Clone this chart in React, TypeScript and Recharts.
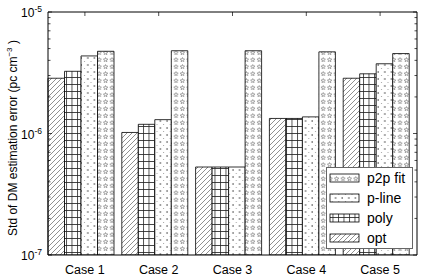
import React from "react";
import { BarChart, Bar, XAxis, YAxis } from "recharts";

// values
const categories = ["Case 1", "Case 2", "Case 3", "Case 4", "Case 5"];
const optValues = [2.85e-6, 1.02e-6, 5.3e-7, 1.33e-6, 2.85e-6];
const polyValues = [3.25e-6, 1.19e-6, 5.3e-7, 1.33e-6, 3.1e-6];
const plineValues = [4.35e-6, 1.3e-6, 5.3e-7, 1.37e-6, 3.75e-6];
const p2pValues = [4.75e-6, 4.8e-6, 4.8e-6, 4.7e-6, 4.55e-6];

const majorTicks = [1e-7, 1e-6, 1e-5];
const yTicks = [
  1e-7, 2e-7, 3e-7, 4e-7, 5e-7, 6e-7, 7e-7, 8e-7, 9e-7,
  1e-6, 2e-6, 3e-6, 4e-6, 5e-6, 6e-6, 7e-6, 8e-6, 9e-6, 1e-5,
];
const majorLabels = ["-7", "-6", "-5"];

const series = [
  { key: "opt", name: "opt", pattern: "hatch" },
  { key: "poly", name: "poly", pattern: "grid" },
  { key: "pline", name: "p-line", pattern: "dots" },
  { key: "p2p", name: "p2p fit", pattern: "stars" },
];

const data = categories.map((name, i) => ({
  name,
  opt: optValues[i],
  poly: polyValues[i],
  pline: plineValues[i],
  p2p: p2pValues[i],
}));

const PLOT_LEFT = 48;
const PLOT_RIGHT = 417;
const PLOT_TOP = 12;
const FONT = "Arial, 'Liberation Sans', Helvetica, sans-serif";

const starPath = (cx: number, cy: number, ro: number, ri: number) => {
  const pts: string[] = [];
  for (let k = 0; k < 10; k++) {
    const r = k % 2 === 0 ? ro : ri;
    const a = (-90 + k * 36) * (Math.PI / 180);
    pts.push(`${(cx + r * Math.cos(a)).toFixed(2)},${(cy + r * Math.sin(a)).toFixed(2)}`);
  }
  return "M" + pts.join("L") + "Z";
};

const Patterns = ({ prefix }: { prefix: string }) => (
  <defs>
    <pattern id={`${prefix}hatch`} width={5} height={5} patternUnits="userSpaceOnUse">
      <rect width={5} height={5} fill="#fff" />
      <path d="M0,5 L5,0 M-1,1 L1,-1 M4,6 L6,4" stroke="#444" strokeWidth={0.6} />
    </pattern>
    <pattern id={`${prefix}grid`} width={5.5} height={7} patternUnits="userSpaceOnUse">
      <rect width={5.5} height={7} fill="#fff" />
      <path d="M0.5,0 V7 M0,0.5 H5.5" stroke="#222" strokeWidth={0.8} />
    </pattern>
    <pattern id={`${prefix}dots`} width={6.6} height={7} patternUnits="userSpaceOnUse">
      <rect width={6.6} height={7} fill="#fff" />
      <circle cx={2} cy={2} r={0.7} fill="#222" />
      <circle cx={5.3} cy={5.5} r={0.5} fill="#888" />
    </pattern>
    <pattern id={`${prefix}stars`} width={6.4} height={7} patternUnits="userSpaceOnUse">
      <rect width={6.4} height={7} fill="#fff" />
      <path d={starPath(3.2, 3.8, 2.3, 1.0)} fill="none" stroke="#444" strokeWidth={0.45} />
    </pattern>
  </defs>
);

const LeftTick = (props: any) => {
  const { y, payload } = props;
  const idx = majorTicks.indexOf(payload.value);
  const major = idx >= 0;
  return (
    <g>
      <line x1={PLOT_LEFT} x2={PLOT_LEFT + (major ? 4 : 2.5)} y1={y} y2={y} stroke="#000" strokeWidth={0.7} />
      {major && (
        <text x={PLOT_LEFT - 6} y={y + 5} textAnchor="end" fontSize={12} fontFamily={FONT} fill="#000">
          10
          <tspan dy={-5} fontSize={8.5}>{majorLabels[idx]}</tspan>
        </text>
      )}
    </g>
  );
};

const RightTick = (props: any) => {
  const { y, payload } = props;
  const major = majorTicks.indexOf(payload.value) >= 0;
  return (
    <line x1={PLOT_RIGHT} x2={PLOT_RIGHT - (major ? 4 : 2.5)} y1={y} y2={y} stroke="#000" strokeWidth={0.7} />
  );
};

const TopTick = (props: any) => {
  const { x } = props;
  return <line x1={x} x2={x} y1={PLOT_TOP} y2={PLOT_TOP + 4} stroke="#000" strokeWidth={0.7} />;
};

// bar axis is shifted 4px left, labels sit at the category centres
const CaseTick = (props: any) => {
  const { x, y, payload } = props;
  return (
    <text x={x + 4} y={y + 11} textAnchor="middle" fontSize={12.5} fontFamily={FONT} fill="#000">
      {payload.value}
    </text>
  );
};

const YLabel = () => (
  <text
    transform="translate(17,138) rotate(-90)"
    textAnchor="middle"
    fontSize={12}
    fontFamily={FONT}
    fill="#000"
  >
    Std of DM estimation error (pc cm
    <tspan dy={-5} fontSize={8}>−3</tspan>
    <tspan dy={5}> )</tspan>
  </text>
);

const LegendBox = () => {
  const items = [...series].reverse();
  return (
    <div
      style={{
        position: "absolute",
        left: 326,
        top: 167,
        width: 87,
        height: 82,
        background: "#fff",
        border: "1px solid #666",
        boxSizing: "border-box",
      }}
    >
      <svg width={85} height={80}>
        <Patterns prefix="lg-" />
        {items.map((s, i) => (
          <g key={s.key}>
            <rect
              x={3}
              y={6 + i * 20}
              width={29}
              height={8}
              fill={`url(#lg-${s.pattern})`}
              stroke="#000"
              strokeWidth={0.8}
            />
            <text x={40} y={15 + i * 20} fontSize={14} fontFamily={FONT} fill="#000">
              {s.name}
            </text>
          </g>
        ))}
      </svg>
    </div>
  );
};

export default function App() {
  return (
    <div style={{ position: "relative", width: 431, height: 277, background: "#fff" }}>
      <style>{"body{margin:0}"}</style>
      <BarChart
        width={431}
        height={277}
        data={data}
        margin={{ top: 2, right: 0, bottom: 0, left: 0 }}
        barGap={0}
        barSize={16.5}
      >
        <Patterns prefix="" />
        <XAxis
          xAxisId="top"
          orientation="top"
          dataKey="name"
          height={10}
          tickLine={false}
          axisLine={{ stroke: "#000", strokeWidth: 1 }}
          tick={<TopTick />}
          interval={0}
        />
        <XAxis
          xAxisId="bars"
          dataKey="name"
          height={22}
          padding={{ left: -4, right: 4 }}
          tickLine={false}
          axisLine={{ stroke: "#000", strokeWidth: 1 }}
          tick={<CaseTick />}
          interval={0}
        />
        <YAxis
          yAxisId="left"
          scale="log"
          type="number"
          domain={[1e-7, 1e-5]}
          allowDataOverflow
          ticks={yTicks}
          interval={0}
          width={48}
          tickLine={false}
          axisLine={{ stroke: "#000", strokeWidth: 1 }}
          tick={<LeftTick />}
          label={<YLabel />}
        />
        <YAxis
          yAxisId="right"
          orientation="right"
          scale="log"
          type="number"
          domain={[1e-7, 1e-5]}
          allowDataOverflow
          ticks={yTicks}
          interval={0}
          width={14}
          tickLine={false}
          axisLine={{ stroke: "#000", strokeWidth: 1 }}
          tick={<RightTick />}
        />
        {series.map((s) => (
          <Bar
            key={s.key}
            dataKey={s.key}
            name={s.name}
            xAxisId="bars"
            yAxisId="left"
            fill={`url(#${s.pattern})`}
            stroke="#000"
            strokeWidth={0.8}
            isAnimationActive={false}
          />
        ))}
      </BarChart>
      <LegendBox />
    </div>
  );
}
